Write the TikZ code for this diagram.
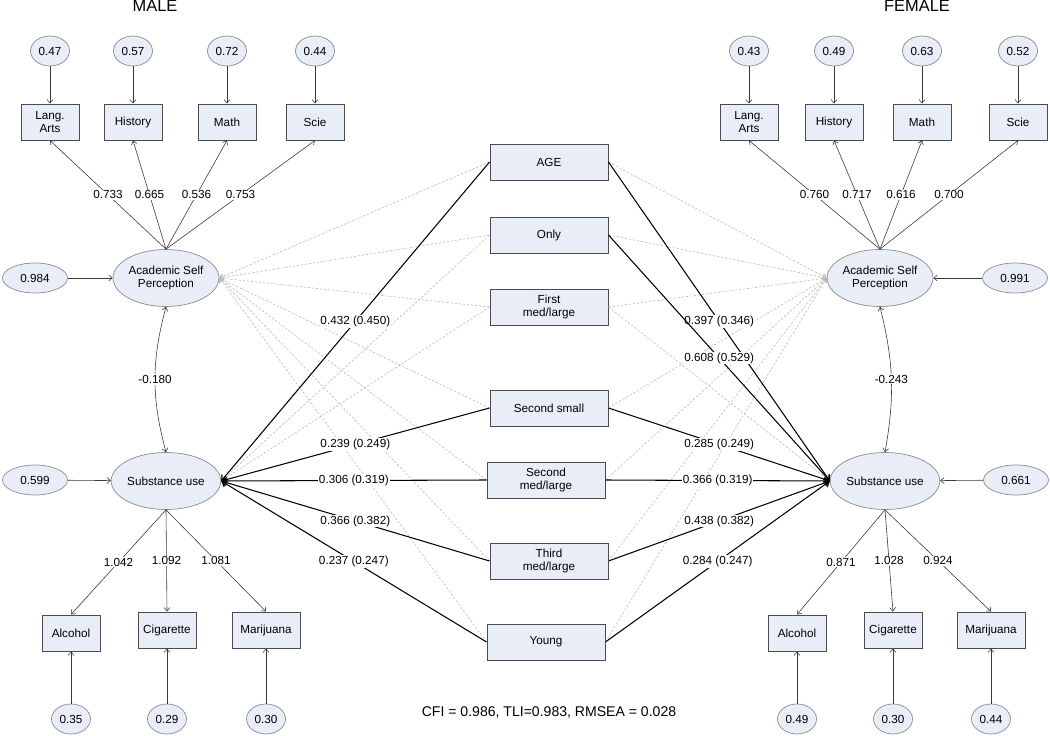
\documentclass[tikz,border=0pt]{standalone}
\usepackage{fontspec}
\setmainfont{Liberation Sans}
\usetikzlibrary{arrows.meta,shapes.geometric}
\definecolor{boxfill}{RGB}{232,237,247}
\tikzset{
	every node/.style={font=\fontsize{10}{11}\selectfont},
	obs/.style={draw=black!70, fill=boxfill, line width=0.8pt, align=center,
		minimum width=1.74cm, minimum height=1.08cm, inner sep=1pt},
	covbox/.style={obs, minimum width=3.54cm},
	lat/.style={ellipse, draw=gray!90, fill=boxfill, line width=0.6pt, align=center,
		minimum width=3.15cm, minimum height=1.71cm, inner sep=0pt},
	err/.style={ellipse, draw=gray!90, fill=boxfill, line width=0.6pt,
		minimum width=1.17cm, minimum height=0.9cm, inner sep=0pt},
	reserr/.style={err, minimum width=1.95cm},
	lbl/.style={fill=white, inner sep=0.8pt},
	link/.style={draw=gray!45!black, line width=0.5pt, -{Straight Barb[length=3pt,width=5pt]}},
	sig/.style={draw=black, line width=0.9pt, -{Straight Barb[length=4pt,width=6pt]}},
	nsig/.style={draw=gray!55, line width=0.5pt, dash pattern=on 2pt off 1.5pt,
		-{Straight Barb[length=3pt,width=5pt]}},
	cov/.style={link, {Straight Barb[length=3pt,width=5pt]}-{Straight Barb[length=3pt,width=5pt]}},
}

\begin{document}
\begin{tikzpicture}[x=0.03cm, y=-0.03cm]
	\useasboundingbox (0,0) rectangle (1050,736);
	\node[font=\fontsize{14}{16}\selectfont] (tmale) at (155,6) {MALE};
	\node[font=\fontsize{14}{16}\selectfont] (tfemale) at (917,6) {FEMALE};

	% covariates
	\foreach \nm/\x/\y/\txt in {age/549/162/AGE, only/549/235/Only, first/549/307/{First\\med/large},
		small/549/408/Second small, second/546/480/{Second\\med/large},
		third/549/561/{Third\\med/large}, young/546/642/Young}{%
		\node[covbox] (\nm) at (\x,\y) {\txt};
	}

	% male model
	\node[lat] (mASP) at (166,278) {Academic Self\\Perception};
	\node[lat] (mSU) at (166,481) {Substance use};
	\node[reserr] (mEasp) at (35,278) {0.984};
	\node[reserr] (mEsu) at (35,480) {0.599};
	\draw[link] (mEasp) -- (mASP);
	\draw[link] (mEsu) -- (mSU);
	\foreach \nm/\x/\txt/\ev/\ld in {mLA/50/{Lang.\\Arts}/0.47/0.733, mHi/133/History/0.57/0.665,
		mMa/227/Math/0.72/0.536, mSc/315/Scie/0.44/0.753}{%
		\node[obs] (\nm) at (\x,122) {\txt};
		\node[err] (e\nm) at (\x,51) {\ev};
		\draw[link] (e\nm) -- (\nm);
		\draw[link] (mASP.north) -- node[lbl] {\ld} (\nm.south);
	}
	\foreach \nm/\x/\y/\txt/\ev/\ld/\w in {mAl/71/633/Alcohol/0.35/1.042/1.74,
		mCi/167/630/Cigarette/0.29/1.092/1.74, mMj/266/630/Marijuana/0.30/1.081/2.04}{%
		\node[obs, minimum width=\w cm] (\nm) at (\x,\y) {\txt};
		\node[err] (e\nm) at (\x,719) {\ev};
		\draw[link] (e\nm) -- (\nm);
		\draw[link] (mSU.south) -- node[lbl] {\ld} (\nm.north);
	}
	\draw[cov] (mASP.south) to[bend right=15] node[lbl] {-0.180} (mSU.north);

	% female model
	\node[lat] (fASP) at (880,278) {Academic Self\\Perception};
	\node[lat] (fSU) at (885,481) {Substance use};
	\node[reserr] (fEasp) at (1015,278) {0.991};
	\node[reserr] (fEsu) at (1016,480) {0.661};
	\draw[link] (fEasp) -- (fASP);
	\draw[link] (fEsu) -- (fSU);
	\foreach \nm/\x/\txt/\ev/\ld in {fLA/749/{Lang.\\Arts}/0.43/0.760, fHi/834/History/0.49/0.717,
		fMa/922/Math/0.63/0.616, fSc/1018/Scie/0.52/0.700}{%
		\node[obs] (\nm) at (\x,122) {\txt};
		\node[err] (e\nm) at (\x,51) {\ev};
		\draw[link] (e\nm) -- (\nm);
		\draw[link] (fASP.north) -- node[lbl] {\ld} (\nm.south);
	}
	\foreach \nm/\x/\y/\txt/\ev/\ld/\w in {fAl/797/633/Alcohol/0.49/0.871/1.74,
		fCi/893/630/Cigarette/0.30/1.028/1.74, fMj/991/630/Marijuana/0.44/0.924/2.04}{%
		\node[obs, minimum width=\w cm] (\nm) at (\x,\y) {\txt};
		\node[err] (e\nm) at (\x,719) {\ev};
		\draw[link] (e\nm) -- (\nm);
		\draw[link] (fSU.south) -- node[lbl] {\ld} (\nm.north);
	}
	\draw[cov] (fASP.south) to[bend left=12] node[lbl] {-0.243} (fSU.north);

	% paths from covariates
	\foreach \c in {age,only,first,small,second,third,young}{%
		\draw[nsig] (\c.west) -- (mASP.east);
		\draw[nsig] (\c.east) -- (fASP.west);
	}
	\draw[nsig] (only.west) -- (mSU.east);
	\draw[nsig] (first.west) -- (mSU.east);
	\draw[nsig] (first.east) -- (fSU.west);
	\foreach \c/\lm/\lf in {age/{0.432 (0.450)}/{0.397 (0.346)}, small/{0.239 (0.249)}/{0.285 (0.249)},
		second/{0.306 (0.319)}/{0.366 (0.319)}, third/{0.366 (0.382)}/{0.438 (0.382)},
		young/{0.237 (0.247)}/{0.284 (0.247)}}{%
		\draw[sig] (\c.west) -- node[lbl] {\lm} (mSU.east);
		\draw[sig] (\c.east) -- node[lbl] {\lf} (fSU.west);
	}
	\draw[sig] (only.east) -- node[lbl] {0.608 (0.529)} (fSU.west);

	\node[font=\fontsize{12}{14}\selectfont] (fit) at (549,712) {CFI = 0.986, TLI=0.983, RMSEA = 0.028};
\end{tikzpicture}
\end{document}
